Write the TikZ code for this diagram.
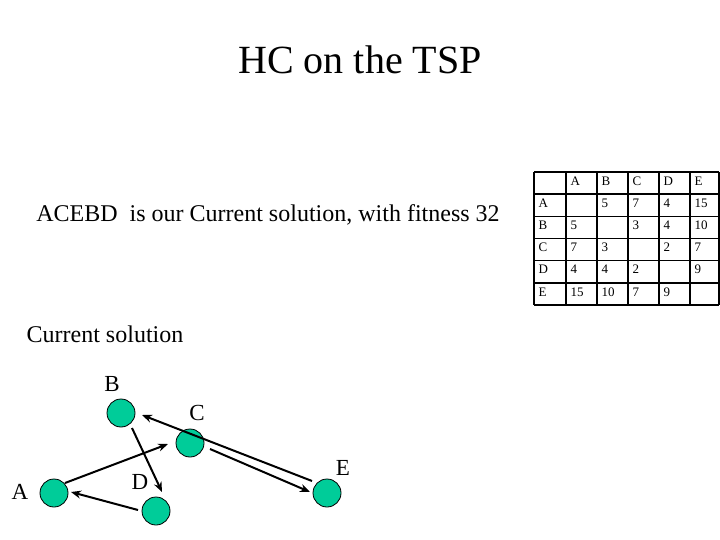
\documentclass[tikz,border=0pt]{standalone}
\usepackage{fontspec}
\setmainfont{Liberation Serif}
\usetikzlibrary{arrows.meta}
\definecolor{nodegreen}{RGB}{0,204,153}
\begin{document}
\begin{tikzpicture}[x=1pt,y=-1pt,
  city/.style={circle,draw=black,line width=0.8pt,fill=nodegreen,minimum size=28pt,inner sep=0},
  lbl/.style={font=\fontsize{23}{25}\selectfont},
  arr/.style={-{Stealth[length=10pt,width=8pt]},line width=2pt},
  cell/.style={font=\fontsize{13}{14}\selectfont,anchor=west}]
\useasboundingbox (0,0) rectangle (720,540);
\node (title) at (360,60) {\fontsize{40}{46}\selectfont HC on the TSP};
\node (sol) at (268,215) {\fontsize{24}{28}\selectfont ACEBD\ \ is our Current solution, with fitness 32};
\node (cur) at (105,334) {\fontsize{24}{28}\selectfont Current solution};
% graph
\node[city] (B) at (121,413) {};
\node[city] (C) at (190,443) {};
\node[city] (A) at (54,493) {};
\node[city] (D) at (156,511) {};
\node[city] (E) at (327,493) {};
\node[lbl] (lB) at (112,384) {B};
\node[lbl] (lC) at (197,413) {C};
\node[lbl] (lA) at (20,492) {A};
\node[lbl] (lD) at (140,482) {D};
\node[lbl] (lE) at (343,468) {E};
\coordinate (a1) at (65,483); \coordinate (c1) at (168,444);
\coordinate (b1) at (132,428); \coordinate (d1) at (162,492);
\coordinate (d2) at (138,510); \coordinate (a2) at (71,492);
\coordinate (c2) at (210,449); \coordinate (e1) at (310,492);
\coordinate (e2) at (312,481); \coordinate (b2) at (142,415);
\draw[arr] (a1) -- (c1);
\draw[arr] (b1) -- (d1);
\draw[arr] (d2) -- (a2);
\draw[arr] (c2) -- (e1);
\draw[arr] (e2) -- (b2);
% table
\foreach \x in {534,566,597,628,659,690,719} \draw[line width=1.4pt] (\x,172) -- (\x,305);
\foreach \i in {0,...,6} \draw[line width=1.4pt] (534,172+22.17*\i) -- (719,172+22.17*\i);
\foreach \t [count=\c] in {A,B,C,D,E}
  \node[cell] (h\c) at (534+31*\c+2,181) {\t};
\foreach \r/\row [count=\k] in {A/{,5,7,4,15},B/{5,,3,4,10},C/{7,3,,2,7},D/{4,4,2,,9},E/{15,10,7,9,}}{
  \node[cell] (r\k) at (535,181+22.17*\k) {\r};
  \foreach \v [count=\c] in \row {
    \node[cell] (v\k\c) at (534+31*\c+2,181+22.17*\k) {\v};
  }
}
\end{tikzpicture}
\end{document}
